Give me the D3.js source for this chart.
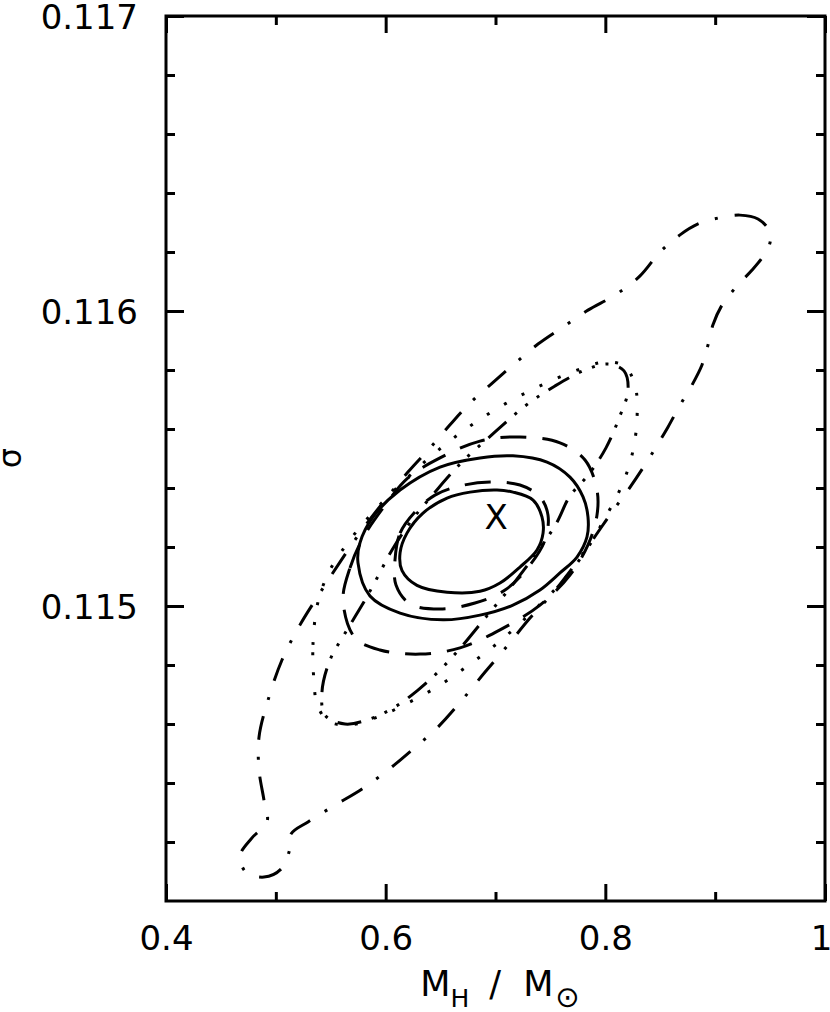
<!DOCTYPE html>
<html lang="en">
<head>
    <meta charset="UTF-8">
    <title>Contours M_H vs sigma</title>
    <script src="https://d3js.org/d3.v7.min.js"></script>
    <style>
        body { margin: 0; background: #fff; }
        .tick text { font-family: "DejaVu Sans", sans-serif; font-size: 34px; fill: #000; }
        .tick line { stroke: #000; stroke-width: 3px; }
        .contour { fill: none; stroke: #000; stroke-width: 3px; stroke-linejoin: round; }
        .title { font-family: "DejaVu Sans", sans-serif; fill: #000; }
    </style>
</head>
<body>
    <svg class="chart"></svg>
    <script>
        // Axis ticks
        const xMajor = [0.4, 0.6, 0.8, 1.0];
        const xMajorLabels = ["0.4", "0.6", "0.8", "1"];
        const xMinor = [0.5, 0.7, 0.9];
        const yMajor = [0.115, 0.116, 0.117];
        const yMajorLabels = ["0.115", "0.116", "0.117"];
        const yMinor = [0.1142, 0.1144, 0.1146, 0.1148, 0.1152, 0.1154, 0.1156, 0.1158,
                        0.1162, 0.1164, 0.1166, 0.1168];

        // Best fit point (the X)
        const bestFit = [0.7005, 0.115305];

        // Contours, [M_H, sigma]
        const solidInner = [
            [0.6131, 0.115180], [0.6194, 0.115247], [0.6340, 0.115315], [0.6559, 0.115366],
            [0.6768, 0.115386], [0.7014, 0.115393], [0.7159, 0.115386], [0.7342, 0.115359],
            [0.7423, 0.115302], [0.7433, 0.115247], [0.7378, 0.115190], [0.7223, 0.115132],
            [0.7041, 0.115078], [0.6859, 0.115050], [0.6559, 0.115047], [0.6285, 0.115070],
            [0.6149, 0.115120]
        ];
        const solidOuter = [
            [0.5748, 0.115146], [0.5766, 0.115214], [0.5885, 0.115302], [0.6131, 0.115393],
            [0.6495, 0.115471], [0.6859, 0.115502], [0.7159, 0.115509], [0.7469, 0.115488],
            [0.7678, 0.115437], [0.7797, 0.115370], [0.7842, 0.115302], [0.7833, 0.115234],
            [0.7742, 0.115166], [0.7587, 0.115112], [0.7405, 0.115054], [0.7159, 0.115003],
            [0.6859, 0.114969], [0.6522, 0.114953], [0.6131, 0.114976], [0.5857, 0.115034]
        ];
        const dashedInner = [
            [0.6085, 0.115156], [0.6131, 0.115247], [0.6267, 0.115319], [0.6449, 0.115376],
            [0.6677, 0.115407], [0.6950, 0.115420], [0.7223, 0.115410], [0.7405, 0.115370],
            [0.7478, 0.115308], [0.7451, 0.115224], [0.7314, 0.115139], [0.7087, 0.115054],
            [0.6813, 0.115010], [0.6495, 0.114990], [0.6222, 0.115007], [0.6094, 0.115071]
        ];
        const dashedOuter = [
            [0.5612, 0.115020], [0.5675, 0.115129], [0.5794, 0.115231], [0.5976, 0.115332],
            [0.6203, 0.115434], [0.6495, 0.115502], [0.6859, 0.115559], [0.7223, 0.115573],
            [0.7587, 0.115553], [0.7815, 0.115495], [0.7924, 0.115393], [0.7924, 0.115308],
            [0.7842, 0.115207], [0.7678, 0.115105], [0.7405, 0.115003], [0.7041, 0.114919],
            [0.6677, 0.114858], [0.6313, 0.114837], [0.5948, 0.114851], [0.5721, 0.114892]
        ];
        const dashDotsMid = [
            [0.5448, 0.114630], [0.5420, 0.114708], [0.5493, 0.114817], [0.5630, 0.114908],
            [0.5785, 0.115003], [0.5912, 0.115088], [0.6058, 0.115190], [0.6240, 0.115292],
            [0.6449, 0.115386], [0.6695, 0.115488], [0.6996, 0.115590], [0.7269, 0.115678],
            [0.7542, 0.115746], [0.7815, 0.115800], [0.8024, 0.115820], [0.8170, 0.115797],
            [0.8207, 0.115732], [0.8125, 0.115637], [0.8006, 0.115536], [0.7851, 0.115447],
            [0.7678, 0.115373], [0.7551, 0.115278], [0.7360, 0.115173], [0.7132, 0.115061],
            [0.6905, 0.114959], [0.6695, 0.114864], [0.6495, 0.114783], [0.6294, 0.114715],
            [0.6085, 0.114658], [0.5857, 0.114617], [0.5630, 0.114600]
        ];
        const dottedMid = [
            [0.5348, 0.114742], [0.5338, 0.114868], [0.5384, 0.115014], [0.5493, 0.115122],
            [0.5675, 0.115224], [0.5903, 0.115325], [0.6176, 0.115427], [0.6449, 0.115519],
            [0.6768, 0.115610], [0.7087, 0.115685], [0.7405, 0.115746], [0.7724, 0.115797],
            [0.7997, 0.115827], [0.8170, 0.115814], [0.8270, 0.115749], [0.8288, 0.115631],
            [0.8243, 0.115512], [0.8152, 0.115410], [0.7997, 0.115298], [0.7815, 0.115183],
            [0.7587, 0.115075], [0.7314, 0.114973], [0.7041, 0.114881], [0.6768, 0.114803],
            [0.6495, 0.114732], [0.6222, 0.114675], [0.5948, 0.114627], [0.5675, 0.114597],
            [0.5475, 0.114610], [0.5375, 0.114668]
        ];
        const dotDashOuter = [
            [0.9499, 0.116268], [0.9390, 0.116312], [0.9226, 0.116325], [0.9026, 0.116315],
            [0.8844, 0.116295], [0.8680, 0.116258], [0.8498, 0.116200], [0.8316, 0.116119],
            [0.8088, 0.116054], [0.7842, 0.116003], [0.7615, 0.115946], [0.7387, 0.115888],
            [0.7150, 0.115814], [0.6950, 0.115749], [0.6768, 0.115688], [0.6586, 0.115614],
            [0.6404, 0.115536], [0.6203, 0.115454], [0.5994, 0.115359], [0.5785, 0.115258],
            [0.5584, 0.115149], [0.5384, 0.115034], [0.5220, 0.114936], [0.5056, 0.114817],
            [0.4929, 0.114681], [0.4847, 0.114556], [0.4847, 0.114444], [0.4892, 0.114342],
            [0.4920, 0.114268], [0.4783, 0.114214], [0.4674, 0.114153], [0.4728, 0.114098],
            [0.4892, 0.114081], [0.5047, 0.114108], [0.5120, 0.114166], [0.5138, 0.114227],
            [0.5293, 0.114268], [0.5539, 0.114325], [0.5785, 0.114380], [0.6021, 0.114444],
            [0.6240, 0.114512], [0.6477, 0.114590], [0.6695, 0.114681], [0.6905, 0.114776],
            [0.7114, 0.114868], [0.7314, 0.114959], [0.7515, 0.115041], [0.7715, 0.115136],
            [0.7897, 0.115231], [0.8061, 0.115319], [0.8207, 0.115393], [0.8343, 0.115468],
            [0.8462, 0.115539], [0.8571, 0.115607], [0.8680, 0.115681], [0.8789, 0.115749],
            [0.8880, 0.115817], [0.8935, 0.115885], [0.8980, 0.115953], [0.9062, 0.116020],
            [0.9199, 0.116085], [0.9336, 0.116139], [0.9445, 0.116190], [0.9499, 0.116231]
        ];

        const contours = [
            { pts: solidInner, dash: null },
            { pts: solidOuter, dash: null },
            { pts: dashedInner, dash: "26,16" },
            { pts: dashedOuter, dash: "26,16" },
            { pts: dashDotsMid, dash: "24,11,3,11,3,11,3,11" },
            { pts: dottedMid, dash: "3,17" },
            { pts: dotDashOuter, dash: "24,17,3,17" }
        ];

        const width = 830, height = 1012;
        const plotLeft = 166, plotRight = 825, plotTop = 16, plotBottom = 901;

        const x = d3.scaleLinear().domain([0.4, 1]).range([plotLeft, plotRight]);
        const y = d3.scaleLinear().domain([0.114, 0.117]).range([plotBottom, plotTop]);

        const svg = d3.select(".chart")
            .attr("width", width)
            .attr("height", height);

        // contours
        const line = d3.line()
            .x(d => x(d[0]))
            .y(d => y(d[1]))
            .curve(d3.curveCatmullRomClosed.alpha(0.5));

        svg.append("g").selectAll("path")
            .data(contours)
            .join("path")
            .attr("class", "contour")
            .attr("d", d => line(d.pts))
            .attr("stroke-dasharray", d => d.dash);

        // best fit marker
        svg.append("text")
            .attr("class", "title")
            .attr("x", x(bestFit[0]))
            .attr("y", y(bestFit[1]) + 12.5)
            .attr("text-anchor", "middle")
            .attr("font-size", "34px")
            .text("X");

        // axes (ticks point inward)
        const gx = svg.append("g").attr("transform", `translate(0,${plotBottom})`);
        gx.call(d3.axisBottom(x).tickValues(xMajor).tickSize(-17).tickPadding(25)
            .tickFormat((d, i) => xMajorLabels[i]));
        gx.append("g").call(d3.axisBottom(x).tickValues(xMinor).tickSize(-9).tickFormat(""));
        gx.selectAll(".tick text").filter((d, i) => i === xMajor.length - 1).attr("dx", "-4");

        const gxTop = svg.append("g").attr("transform", `translate(0,${plotTop})`);
        gxTop.call(d3.axisTop(x).tickValues(xMajor).tickSize(-17).tickFormat(""));
        gxTop.append("g").call(d3.axisTop(x).tickValues(xMinor).tickSize(-9).tickFormat(""));

        const gy = svg.append("g").attr("transform", `translate(${plotLeft},0)`);
        gy.call(d3.axisLeft(y).tickValues(yMajor).tickSize(-18).tickPadding(28)
            .tickFormat((d, i) => yMajorLabels[i]));
        gy.append("g").call(d3.axisLeft(y).tickValues(yMinor).tickSize(-9).tickFormat(""));
        gy.selectAll(".tick text").attr("dy", "0.36em");

        const gyRight = svg.append("g").attr("transform", `translate(${plotRight},0)`);
        gyRight.call(d3.axisRight(y).tickValues(yMajor).tickSize(-18).tickFormat(""));
        gyRight.append("g").call(d3.axisRight(y).tickValues(yMinor).tickSize(-9).tickFormat(""));

        svg.selectAll(".domain").remove();

        // frame
        svg.append("rect")
            .attr("x", plotLeft)
            .attr("y", plotTop)
            .attr("width", plotRight - plotLeft)
            .attr("height", plotBottom - plotTop)
            .attr("fill", "none")
            .attr("stroke", "#000")
            .attr("stroke-width", 3);

        // x axis title: M_H / M_sun
        const xt = svg.append("text")
            .attr("class", "title")
            .attr("x", 500)
            .attr("y", 996)
            .attr("text-anchor", "middle")
            .attr("font-size", "35px");
        xt.append("tspan").text("M");
        xt.append("tspan").attr("font-size", "25px").attr("dy", 11).text("H");
        xt.append("tspan").attr("dy", -11).attr("dx", 20).text("/");
        xt.append("tspan").attr("dx", 22).text("M");
        xt.append("tspan").attr("font-size", "29px").attr("dy", 11).attr("dx", 2).text("\u2299");

        // y axis title
        svg.append("text")
            .attr("class", "title")
            .attr("transform", "translate(21,458) rotate(-90)")
            .attr("text-anchor", "middle")
            .attr("font-size", "32px")
            .text("σ");
    </script>
</body>
</html>
